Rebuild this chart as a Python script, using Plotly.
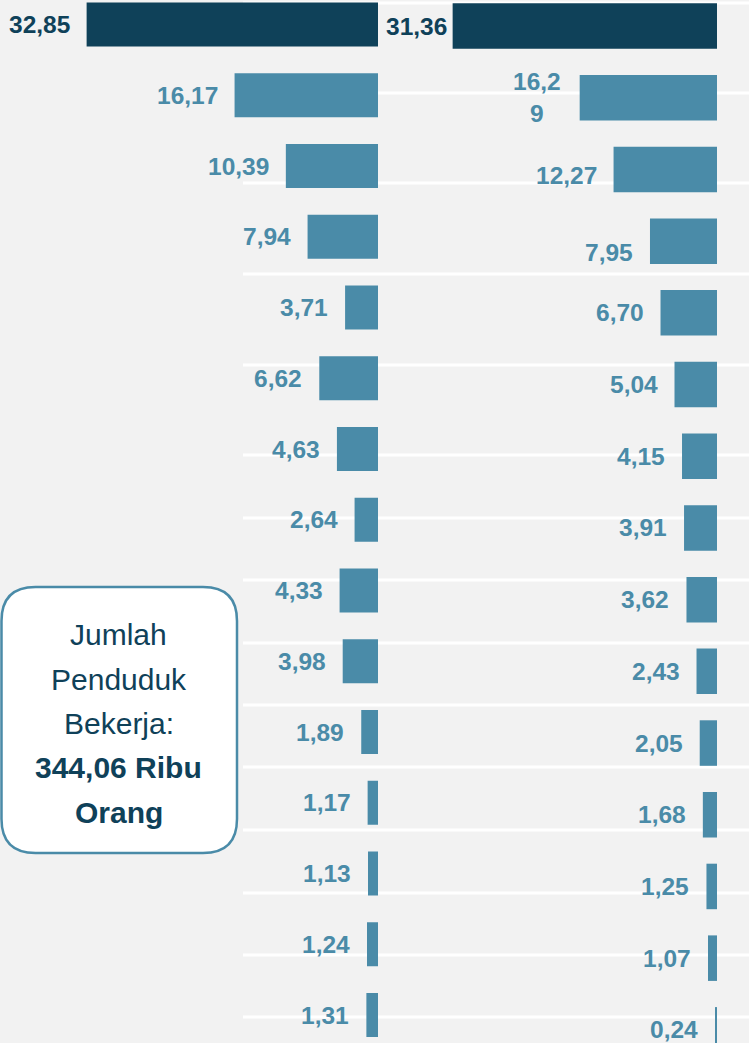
import plotly.graph_objects as go

# ---- data ----
left_values = [32.85, 16.17, 10.39, 7.94, 3.71, 6.62, 4.63, 2.64, 4.33, 3.98, 1.89, 1.17, 1.13, 1.24, 1.31]
right_values = [31.36, 16.29, 12.27, 7.95, 6.70, 5.04, 4.15, 3.91, 3.62, 2.43, 2.05, 1.68, 1.25, 1.07, 0.24]
rank = list(range(15))
box_lines = ["Jumlah", "Penduduk", "Bekerja:"]
box_total = ["344,06 Ribu", "Orang"]

# ---- style ----
W, H = 749, 1043
DARK = "#0f4159"
LIGHT = "#4a8ba8"
BG = "#f2f2f2"
FONT = "Liberation Sans Narrow, Arial Narrow, Liberation Sans, sans-serif"
GRID_Y_PX = [3, 93, 183, 274, 365, 455, 518, 580, 643, 705, 767, 830, 893, 955, 1017]
BOX_LINE_Y_PX = [634, 679, 723, 767, 812]


def fmt(v):
    return f"{v:.2f}".replace(".", ",")


def colors(n):
    return [DARK] + [LIGHT] * (n - 1)


fig = go.Figure()
fig.add_trace(go.Bar(x=left_values, y=rank, orientation="h", width=0.622,
                     marker=dict(color=colors(len(left_values)), line=dict(width=0)),
                     xaxis="x", yaxis="y", hoverinfo="skip"))
fig.add_trace(go.Bar(x=right_values, y=rank, orientation="h", width=0.635,
                     marker=dict(color=colors(len(right_values)), line=dict(width=0)),
                     xaxis="x2", yaxis="y2", hoverinfo="skip"))

LABEL_SIZE = 24.5
annotations = []
for i, v in enumerate(left_values):
    annotations.append(dict(x=v, y=i, xref="x", yref="y", text=fmt(v), showarrow=False,
                            xanchor="right", yanchor="middle", xshift=-15,
                            font=dict(family=FONT, size=LABEL_SIZE, color=DARK if i == 0 else LIGHT, weight="bold")))

right_xshift = {0: -4, 1: -17}
right_yshift = {2: -6, 3: -11}
for i, v in enumerate(right_values):
    t = fmt(v)
    if i == 1:
        t = t[:-1] + "<br>" + t[-1]
    annotations.append(dict(x=v, y=i, xref="x2", yref="y2", text=t, showarrow=False,
                            xanchor="right", yanchor="middle",
                            xshift=right_xshift.get(i, -15), yshift=right_yshift.get(i, 0),
                            font=dict(family=FONT, size=LABEL_SIZE, color=DARK if i == 0 else LIGHT, weight="bold")))

box_texts = box_lines + [f"<b>{t}</b>" for t in box_total]
for t, yp in zip(box_texts, BOX_LINE_Y_PX):
    annotations.append(dict(x=119 / W, y=1 - yp / H, xref="paper", yref="paper", text=t,
                            showarrow=False, xanchor="center", yanchor="middle", align="center",
                            font=dict(family=FONT, size=30, color=DARK)))

shapes = []
for yp in GRID_Y_PX:
    shapes.append(dict(type="line", xref="paper", yref="paper", x0=243 / W, x1=1,
                       y0=1 - yp / H, y1=1 - yp / H, layer="below",
                       line=dict(color="white", width=3)))

# rounded box
x0, x1, yt, yb, r = 1.5, 237, 587, 853, 34
def px(x):
    return x / W
def py(y):
    return 1 - y / H
path = (f"M {px(x0 + r)} {py(yt)} L {px(x1 - r)} {py(yt)} "
        f"Q {px(x1)} {py(yt)} {px(x1)} {py(yt + r)} "
        f"L {px(x1)} {py(yb - r)} Q {px(x1)} {py(yb)} {px(x1 - r)} {py(yb)} "
        f"L {px(x0 + r)} {py(yb)} Q {px(x0)} {py(yb)} {px(x0)} {py(yb - r)} "
        f"L {px(x0)} {py(yt + r)} Q {px(x0)} {py(yt)} {px(x0 + r)} {py(yt)} Z")
shapes.append(dict(type="path", xref="paper", yref="paper", path=path,
                   fillcolor="white", line=dict(color=LIGHT, width=2.5), layer="below"))

L_SCALE = 8.87
R_SCALE = 8.43
fig.update_layout(
    width=W, height=H, margin=dict(l=0, r=0, t=0, b=0),
    paper_bgcolor=BG, plot_bgcolor="rgba(0,0,0,0)",
    showlegend=False, barmode="overlay",
    xaxis=dict(domain=[0, 378 / W], range=[378 / L_SCALE, 0], visible=False, fixedrange=True),
    yaxis=dict(domain=[0, 1], range=[(H - 24.5) / 70.75, -24.5 / 70.75], visible=False),
    xaxis2=dict(domain=[378 / W, 717 / W], range=[(717 - 378) / R_SCALE, 0], visible=False, anchor="y2"),
    yaxis2=dict(domain=[0, 1], range=[(H - 26.05) / 71.7, -26.05 / 71.7], visible=False, anchor="x2"),
    annotations=annotations, shapes=shapes,
)

fig.write_html("out.html", config={"displayModeBar": False},
               post_script="document.body.style.margin='0';document.body.style.overflow='hidden';")
